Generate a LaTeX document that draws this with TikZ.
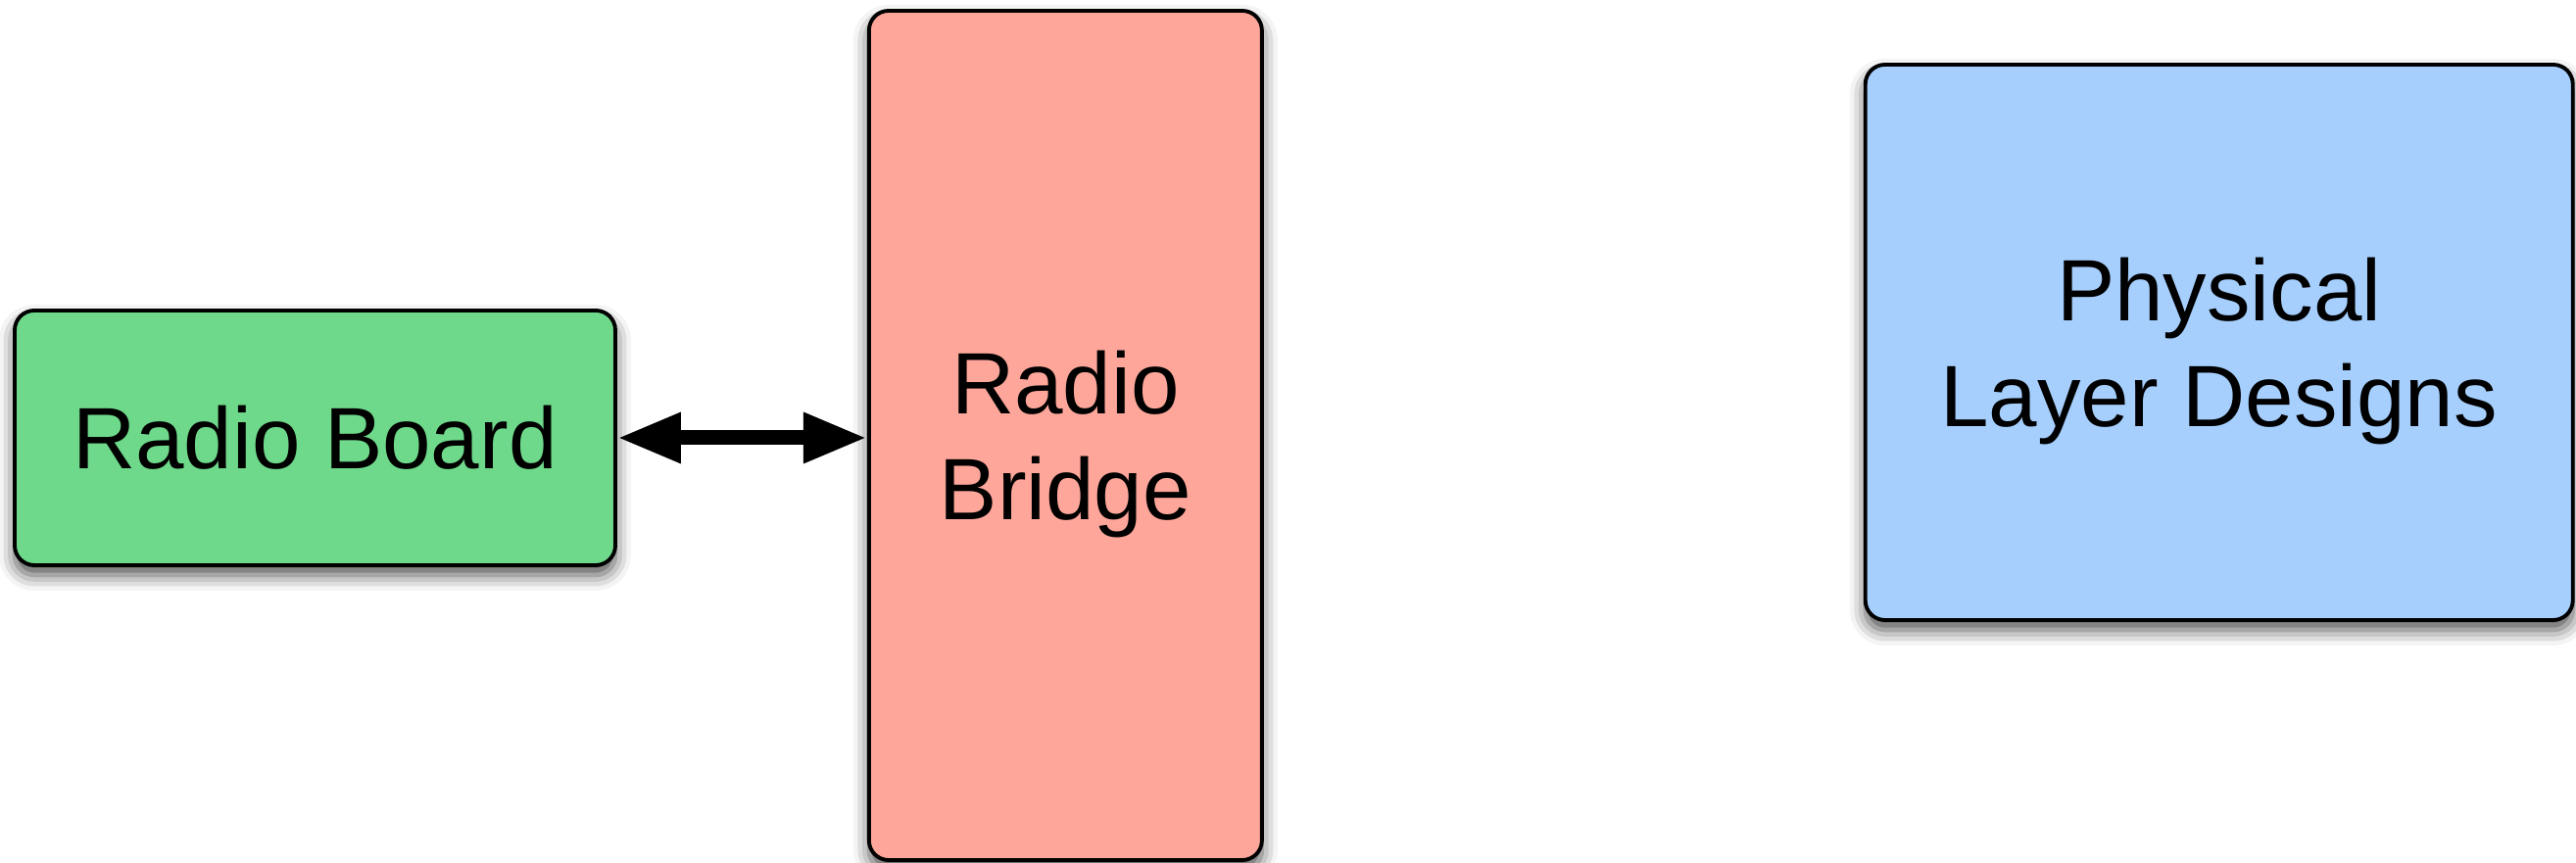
\documentclass[tikz,border=0pt]{standalone}
\usepackage{fontspec}
\setmainfont{Liberation Sans}
\usetikzlibrary{positioning,arrows.meta,shadows.blur}
\definecolor{boardgreen}{RGB}{110,217,138}
\definecolor{bridgered}{RGB}{254,166,154}
\definecolor{phyblue}{RGB}{166,207,254}

\begin{document}
\begin{tikzpicture}[
  block/.style={draw=black, line width=1.1pt, rounded corners=0.2cm, align=center,
    font=\fontsize{25.3}{30.7}\selectfont,
    blur shadow={shadow xshift=0pt, shadow yshift=-0.1cm, shadow blur radius=0.16cm, shadow opacity=70}},
  twoline/.style={text depth=-0.1cm},
  biarrow/.style={{Triangle[length=0.65cm, width=0.48cm]}-{Triangle[length=0.65cm, width=0.48cm]}, line width=0.15cm}
]
\useasboundingbox (0,0) rectangle (26.29,8.81);
\node[block, fill=boardgreen, minimum width=6.13cm, minimum height=2.6cm] (board) at (3.215,4.34) {Radio Board};
\node[block, twoline, fill=bridgered, minimum width=4.01cm, minimum height=8.67cm, right=2.55cm of board, yshift=0.025cm] (bridge) {Radio\\Bridge};
\node[block, twoline, fill=phyblue, minimum width=7.22cm, minimum height=5.67cm, right=6.12cm of bridge, yshift=0.95cm] (phy) {Physical\\Layer Designs};
\draw[biarrow] (board.east) -- (board.east -| bridge.west);
\end{tikzpicture}
\end{document}
